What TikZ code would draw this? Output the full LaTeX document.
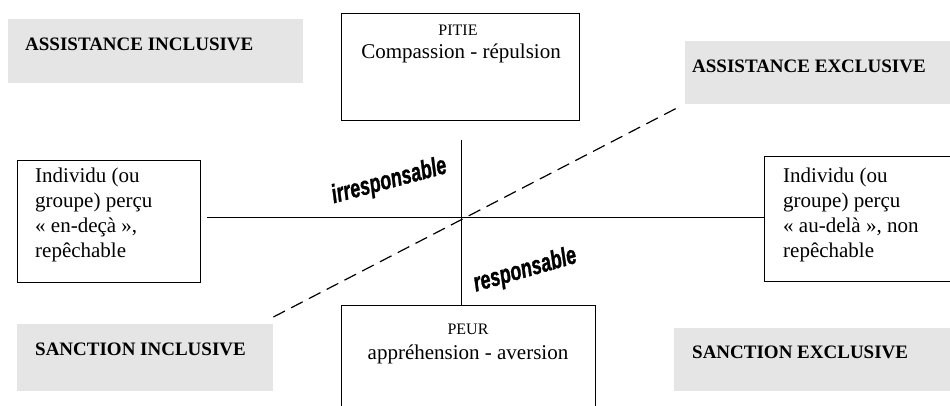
\documentclass[tikz,border=0pt]{standalone}
\usepackage{fontspec}
\usepackage{graphicx}
\setmainfont{Liberation Serif}
\newfontfamily\arialfont{Liberation Sans}[BoldItalicFeatures={FakeBold=1.3}]
\definecolor{boxgray}{RGB}{229,229,229}
\begin{document}
\begin{tikzpicture}[x=1pt,y=1pt,
  graybox/.style={fill=boxgray, draw=none, anchor=north west, inner sep=0pt},
  linebox/.style={draw=black, line width=1.2pt, fill=white, anchor=north west, inner sep=0pt},
  bold/.style={font=\fontsize{19}{23}\selectfont\bfseries, anchor=base west, inner sep=0pt},
  small/.style={font=\fontsize{16}{19}\selectfont, anchor=base, inner sep=0pt},
  big/.style={font=\fontsize{21}{25}\selectfont, anchor=base, inner sep=0pt},
  para/.style={font=\fontsize{21}{25}\selectfont, anchor=base west, inner sep=0pt},
  slant/.style={font=\arialfont\fontsize{18}{20}\selectfont\bfseries\itshape, anchor=base, inner sep=0pt},
  axis/.style={line width=1pt},
  dashline/.style={line width=1.2pt, dash pattern=on 13pt off 7pt}
]
\useasboundingbox (0,0) rectangle (950,-405);
\clip (0,0) rectangle (950,-405);
\fill[white] (0,0) rectangle (950,-405);

% gray boxes
\node[graybox, minimum width=295pt, minimum height=64pt] (ai) at (8,-19) {};
\node[graybox, minimum width=275pt, minimum height=63pt] (ae) at (685,-41) {};
\node[graybox, minimum width=256pt, minimum height=67pt] (si) at (17,-324) {};
\node[graybox, minimum width=286pt, minimum height=63pt] (se) at (674,-328) {};

\node[bold] (ait) at (25,-50) {ASSISTANCE INCLUSIVE};
\node[bold] (aet) at (692,-72) {ASSISTANCE EXCLUSIVE};
\node[bold] (sit) at (35,-355) {SANCTION INCLUSIVE};
\node[bold] (set) at (692,-358) {SANCTION EXCLUSIVE};

% outlined boxes
\node[linebox, minimum width=238pt, minimum height=107pt] (pitie) at (341,-13) {};
\node[linebox, minimum width=254pt, minimum height=120pt] (peur) at (341,-305) {};
\node[linebox, minimum width=183pt, minimum height=122pt] (lb) at (17,-160) {};
\node[linebox, minimum width=200pt, minimum height=125pt] (rb) at (764,-156) {};

\node[small] (pitiet) at (458,-35) {PITIE};
\node[big] (compt) at (461,-58) {Compassion - répulsion};
\node[small] (peurt) at (468,-334) {PEUR};
\node[big] (appt) at (468,-359) {appréhension - aversion};

\node[para] (lbt) at (35,-182) {\parbox[t]{170pt}{\raggedright\fontsize{21}{25}\selectfont Individu (ou\\groupe) perçu\\« en-deçà »,\\repêchable}};
\node[para] (rbt) at (783,-182) {\parbox[t]{170pt}{\raggedright\fontsize{21}{25}\selectfont Individu (ou\\groupe) perçu\\« au-delà », non\\repêchable}};

% axes
\coordinate (c) at (461,-217);
\coordinate (vtop) at (461,-140);
\draw[axis] ([xshift=6pt]lb.east |- c) -- (rb.west |- c);
\draw[axis] (vtop) -- (peur.north -| c);

% dashed diagonal
\coordinate (d1) at ([yshift=7pt]si.north east);
\coordinate (d2) at ([xshift=-5pt,yshift=-2pt]ae.south west);
\draw[dashline] (d1) -- (d2);

% slanted labels
\node[slant, rotate=15] (irr) at (391,-188) {\scalebox{1}[1.45]{irresponsable}};
\node[slant, rotate=16] (resp) at (527,-277) {\scalebox{1}[1.45]{responsable}};
\end{tikzpicture}
\end{document}
